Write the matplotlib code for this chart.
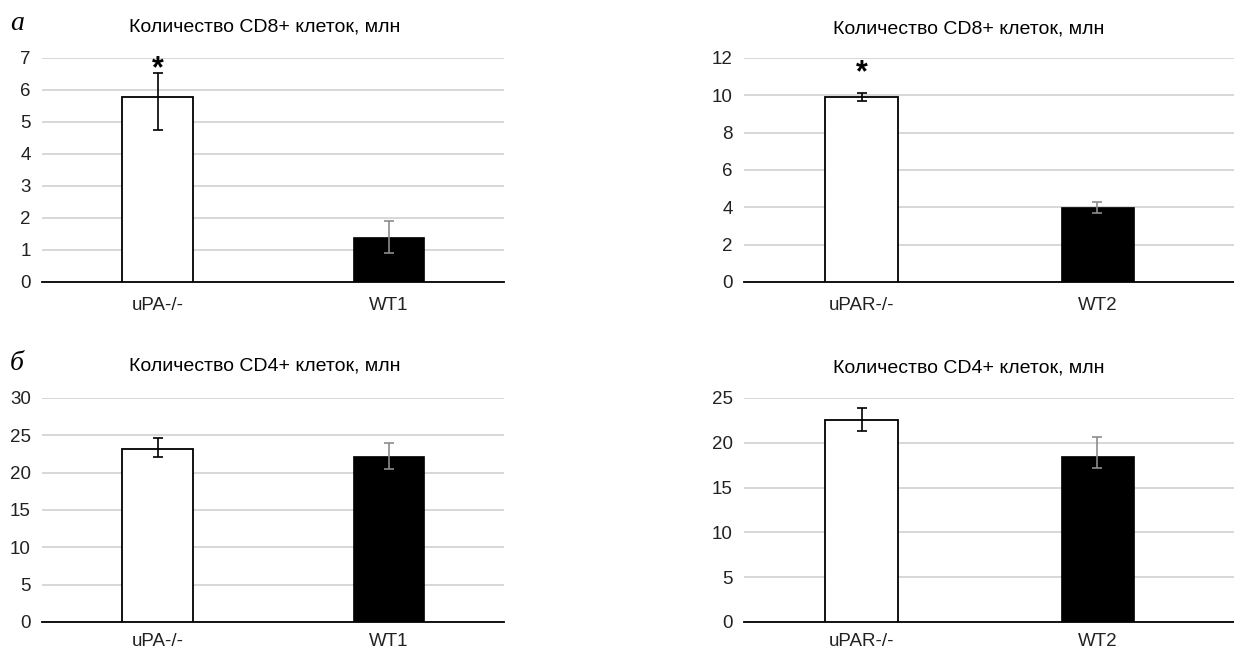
import matplotlib

matplotlib.use("Agg")
import matplotlib.pyplot as plt
import numpy as np

plt.rcParams["font.family"] = ["Liberation Sans", "DejaVu Sans"]

# panel a: CD8+ cells, millions
cd8_upa_groups = ["uPA-/-", "WT1"]
cd8_upa_means = [5.77, 1.42]
cd8_upa_err_lo = [1.02, 0.52]
cd8_upa_err_hi = [0.77, 0.48]

cd8_upar_groups = ["uPAR-/-", "WT2"]
cd8_upar_means = [9.9, 4.02]
cd8_upar_err_lo = [0.18, 0.34]
cd8_upar_err_hi = [0.22, 0.28]

# panel б: CD4+ cells, millions
cd4_upa_groups = ["uPA-/-", "WT1"]
cd4_upa_means = [23.2, 22.2]
cd4_upa_err_lo = [1.05, 1.7]
cd4_upa_err_hi = [1.4, 1.8]

cd4_upar_groups = ["uPAR-/-", "WT2"]
cd4_upar_means = [22.6, 18.5]
cd4_upar_err_lo = [1.3, 1.3]
cd4_upar_err_hi = [1.3, 2.1]

W, H = 1234, 652
fig = plt.figure(figsize=(W / 100, H / 100), dpi=100)


def make_ax(x0, x1, y_top, y_bot):
    return fig.add_axes([x0 / W, 1 - y_bot / H, (x1 - x0) / W, (y_bot - y_top) / H])


def draw(ax, groups, means, err_lo, err_hi, ymax, step, xr, xpad, star=None):
    x = np.arange(len(groups))
    ax.bar(x[0], means[0], width=0.31, color="white", edgecolor="black",
           linewidth=1.3, zorder=3)
    ax.bar(x[1], means[1], width=0.31, color="black", edgecolor="black",
           linewidth=0.5, zorder=3)
    ecolors = ["black", "#8c8c8c"]
    for i in range(len(groups)):
        ax.errorbar(x[i], means[i], yerr=[[err_lo[i]], [err_hi[i]]], fmt="none",
                    ecolor=ecolors[i], elinewidth=1.2, capsize=3.3,
                    capthick=1.2, zorder=4)
    ax.set_xlim(-0.5, xr)
    ax.set_ylim(0, ymax)
    ax.set_yticks(np.arange(0, ymax + step / 2, step))
    ax.set_xticks(x)
    ax.set_xticklabels(groups)
    ax.yaxis.grid(True, color="#d4d4d4", linewidth=1.3, zorder=0)
    ax.set_axisbelow(True)
    for s in ["top", "right", "left"]:
        ax.spines[s].set_visible(False)
    ax.spines["bottom"].set_linewidth(1.3)
    ax.tick_params(length=0, labelsize=13.5, colors="#222222")
    ax.tick_params(axis="x", pad=xpad)
    ax.tick_params(axis="y", pad=8)
    if star is not None:
        ax.text(x[0], star, "*", ha="center", va="center", fontsize=22,
                fontweight="bold")


ax1 = make_ax(42, 504, 58, 282)
draw(ax1, cd8_upa_groups, cd8_upa_means, cd8_upa_err_lo, cd8_upa_err_hi,
     7, 1, 1.5, 11, star=6.65)

ax2 = make_ax(744, 1234, 58, 282)
draw(ax2, cd8_upar_groups, cd8_upar_means, cd8_upar_err_lo, cd8_upar_err_hi,
     12, 2, 1.58, 11, star=11.2)

ax3 = make_ax(42, 504, 398, 622)
draw(ax3, cd4_upa_groups, cd4_upa_means, cd4_upa_err_lo, cd4_upa_err_hi,
     30, 5, 1.5, 8)

ax4 = make_ax(744, 1234, 398, 622)
draw(ax4, cd4_upar_groups, cd4_upar_means, cd4_upar_err_lo, cd4_upar_err_hi,
     25, 5, 1.58, 8)

titles = [
    (265, 27, "Количество CD8+ клеток, млн"),
    (969, 29, "Количество CD8+ клеток, млн"),
    (265, 366, "Количество CD4+ клеток, млн"),
    (969, 368, "Количество CD4+ клеток, млн"),
]
for tx, ty, t in titles:
    fig.text(tx / W, 1 - ty / H, t, fontsize=14, ha="center", va="center")

fig.text(10 / W, 1 - 24 / H, "а", fontsize=20, style="italic",
         family=["Liberation Serif", "DejaVu Serif"], va="center")
fig.text(10 / W, 1 - 364 / H, "б", fontsize=20, style="italic",
         family=["Liberation Serif", "DejaVu Serif"], va="center")

fig.savefig("out.png", dpi=100)
